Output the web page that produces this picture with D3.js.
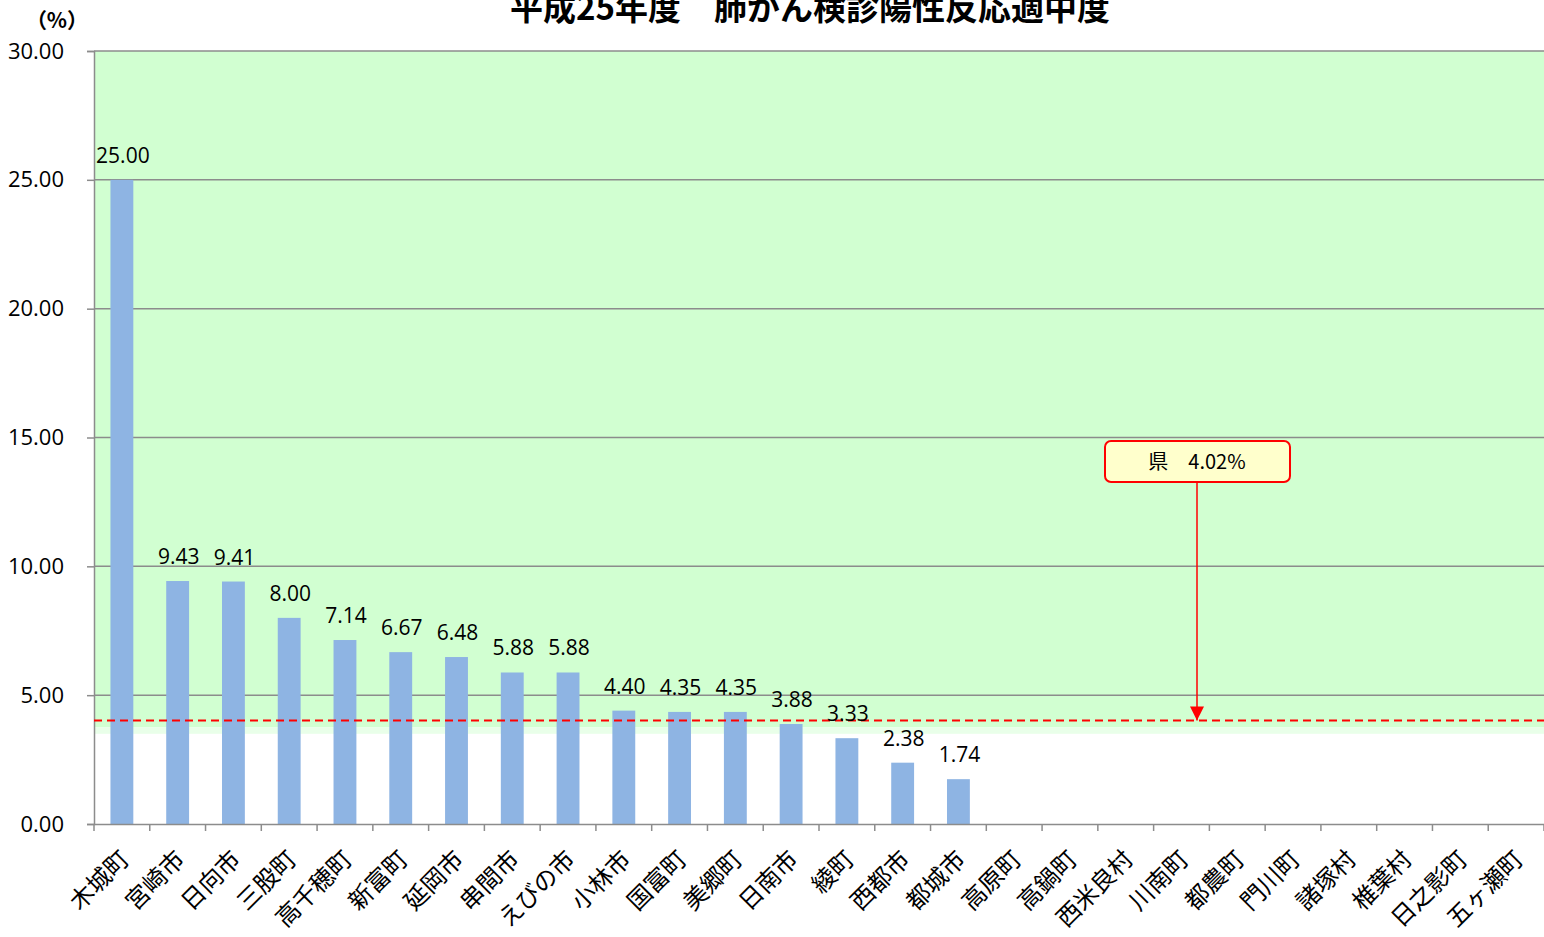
<html>
<head>
<meta charset="utf-8">
<style>
  body { margin: 0; background: #fff; }
  text { font-family: "Noto Sans CJK JP", "Noto Sans", sans-serif; }
</style>
</head>
<body>
<svg id="svg" width="1544" height="937"></svg>
<script src="https://d3js.org/d3.v7.min.js"></script>
<script>

var cities = ["木城町", "宮崎市", "日向市", "三股町", "高千穂町", "新富町", "延岡市", "串間市", "えびの市",
  "小林市", "国富町", "美郷町", "日南市", "綾町", "西都市", "都城市", "高原町", "高鍋町", "西米良村",
  "川南町", "都農町", "門川町", "諸塚村", "椎葉村", "日之影町", "五ヶ瀬町"];
var rates = [25.00, 9.43, 9.41, 8.00, 7.14, 6.67, 6.48, 5.88, 5.88,
  4.40, 4.35, 4.35, 3.88, 3.33, 2.38, 1.74, null, null, null,
  null, null, null, null, null, null, null];
var yTicks = [0, 5, 10, 15, 20, 25, 30];
var prefValue = 4.02;
var prefLabel = "県　4.02%";
var goodRange = [3.5, 30];
var title = "平成25年度　肺がん検診陽性反応適中度";

var pL = 94, pR = 1544, pT = 51, pB = 824;

var x = d3.scaleBand().domain(cities).range([pL, pR]).paddingInner(0).paddingOuter(0);
var y = d3.scaleLinear().domain([0, 30]).range([pB, pT]);
var svg = d3.select("#svg");

// green target area
svg.append("rect")
  .attr("x", pL).attr("width", pR - pL)
  .attr("y", y(goodRange[1])).attr("height", y(goodRange[0] + 0.25) - y(goodRange[1]))
  .style("fill", "#d1ffd1");
svg.append("rect")
  .attr("x", pL).attr("width", pR - pL)
  .attr("y", y(goodRange[0] + 0.25)).attr("height", y(goodRange[0]) - y(goodRange[0] + 0.25))
  .style("fill", "#e9ffe9");

// grid
svg.append("g").selectAll("line").data(yTicks.filter(d => d > 0))
  .join("line")
  .attr("x1", pL).attr("x2", pR)
  .attr("y1", d => y(d)).attr("y2", d => y(d))
  .style("stroke", "#8c8c8c").style("stroke-width", 1.5);

// y axis
var yAxis = svg.append("g").attr("transform", "translate(" + pL + ",0)")
  .call(d3.axisLeft(y).tickValues(yTicks).tickFormat(d3.format(".2f")).tickSize(7).tickPadding(23));
yAxis.select(".domain").style("stroke", "#8c8c8c").style("stroke-width", 1.5);
yAxis.selectAll(".tick line").style("stroke", "#8c8c8c").style("stroke-width", 1.5);
yAxis.selectAll("text").style("font-size", "22px").style("fill", "#000")
  .style("font-family", "'Open Sans', 'Noto Sans', sans-serif");

// bars
var bw = x.bandwidth() * 0.41;
svg.append("g").selectAll("rect").data(cities.map((c, i) => ({ c: c, v: rates[i] })).filter(d => d.v != null))
  .join("rect")
  .attr("x", d => x(d.c) + (x.bandwidth() - bw) / 2)
  .attr("width", bw)
  .attr("y", d => y(d.v))
  .attr("height", d => y(0) - y(d.v))
  .style("fill", "#8eb4e3");

// x axis
var xAxis = svg.append("g").attr("transform", "translate(0," + pB + ")")
  .call(d3.axisBottom(x).tickSize(0).tickFormat(""));
xAxis.select(".domain").style("stroke", "#8c8c8c").style("stroke-width", 1.5);
svg.append("g").selectAll("line").data(cities.concat(["_end"]))
  .join("line")
  .attr("x1", (d, i) => pL + i * x.step()).attr("x2", (d, i) => pL + i * x.step())
  .attr("y1", pB).attr("y2", pB + 7)
  .style("stroke", "#8c8c8c").style("stroke-width", 1.5);
svg.append("g").selectAll("text").data(cities)
  .join("text")
  .attr("transform", d => "translate(" + (x(d) + x.bandwidth() / 2 - 4) + "," + (pB + 24) + ") rotate(-45)")
  .attr("text-anchor", "end")
  .attr("dy", "0.75em")
  .style("font-size", "24px")
  .text(d => d);

// dashed prefecture line
svg.append("line")
  .attr("x1", pL).attr("x2", pR)
  .attr("y1", y(prefValue)).attr("y2", y(prefValue))
  .style("stroke", "#ff0000").style("stroke-width", 2).style("stroke-dasharray", "8,5");

// data labels
svg.append("g").selectAll("text").data(cities.map((c, i) => ({ c: c, v: rates[i] })).filter(d => d.v != null))
  .join("text")
  .attr("x", d => x(d.c) + x.bandwidth() / 2 + 1)
  .attr("y", d => y(d.v) - 17)
  .attr("text-anchor", "middle")
  .style("font-size", "21px")
  .style("font-family", "'Open Sans', 'Noto Sans', sans-serif")
  .text(d => d.v.toFixed(2));

// callout
var cx = 1197;
svg.append("defs").append("marker")
  .attr("id", "arr").attr("viewBox", "0 0 10 10").attr("refX", 10).attr("refY", 5)
  .attr("markerWidth", 14).attr("markerHeight", 14).attr("markerUnits", "userSpaceOnUse")
  .attr("orient", "auto")
  .append("path").attr("d", "M0,0L10,5L0,10Z").style("fill", "#ff0000");
svg.append("line")
  .attr("x1", cx).attr("x2", cx)
  .attr("y1", 482).attr("y2", y(prefValue))
  .attr("marker-end", "url(#arr)")
  .style("stroke", "#ff0000").style("stroke-width", 1.5);
svg.append("rect")
  .attr("x", 1105).attr("y", 441).attr("width", 185).attr("height", 41)
  .attr("rx", 6)
  .style("fill", "#ffffcc").style("stroke", "#ff0000").style("stroke-width", 2);
svg.append("text")
  .attr("x", cx).attr("y", 462).attr("dy", "0.35em")
  .attr("text-anchor", "middle")
  .style("font-size", "20px")
  .text(prefLabel);

// title and unit
svg.append("text")
  .attr("x", 810).attr("y", 20)
  .attr("text-anchor", "middle")
  .style("font-size", "33px").style("font-weight", "bold")
  .text(title);
svg.append("text")
  .attr("x", 57).attr("y", 28)
  .attr("text-anchor", "middle")
  .style("font-size", "21px").style("font-weight", "bold")
  .text("（%）");

</script>
</body>
</html>
